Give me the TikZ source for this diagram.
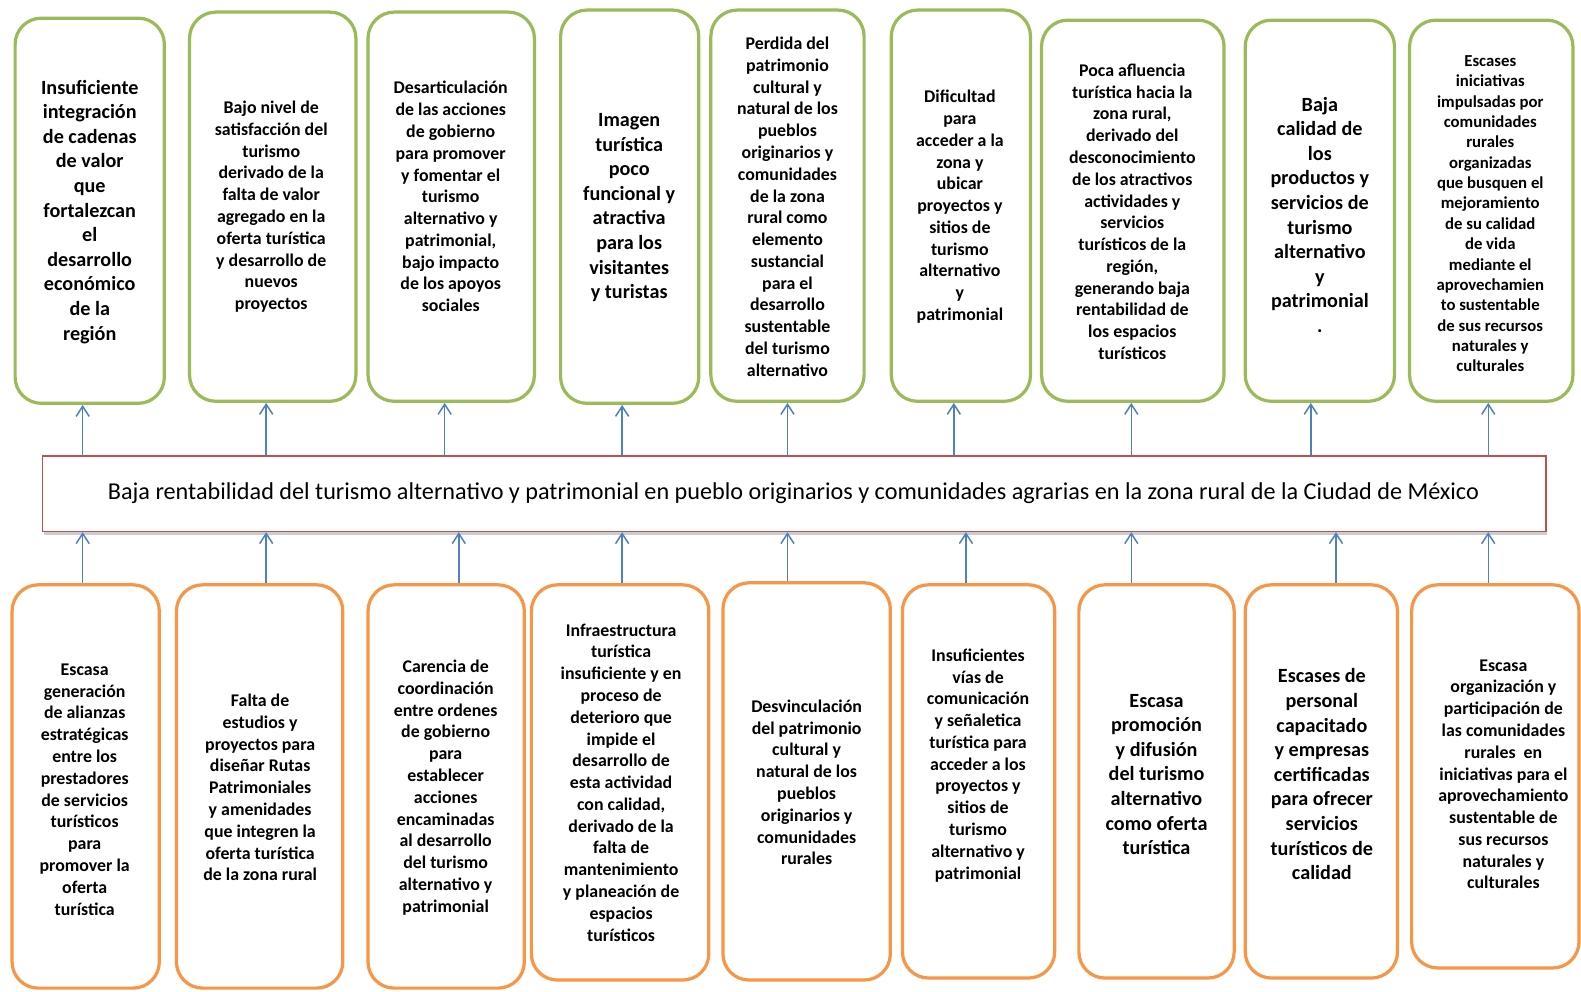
\documentclass[tikz,border=0pt]{standalone}
\usepackage{fontspec}
\setmainfont{Carlito}
\usetikzlibrary{arrows.meta,shadows}
\definecolor{boxgreen}{HTML}{9BBB59}
\definecolor{boxorange}{HTML}{F79646}
\definecolor{boxred}{HTML}{C0504D}
\definecolor{arrblue}{HTML}{4F81BD}
\tikzset{
  topbox/.style={draw=boxgreen, line width=1.6pt, rounded corners=13pt, fill=white, inner sep=0pt},
  botbox/.style={draw=boxorange, line width=1.6pt, rounded corners=13pt, fill=white, inner sep=0pt},
  midbox/.style={draw=boxred, line width=0.8pt, fill=white, inner sep=0pt,
    drop shadow={opacity=0.4, shadow xshift=0.8pt, shadow yshift=-1.8pt}},
  bigtxt/.style={align=center, inner sep=0pt, font=\bfseries\fontsize{10}{12.2}\selectfont},
  normtxt/.style={align=center, inner sep=0pt, font=\bfseries\fontsize{8.85}{10.8}\selectfont},
  smalltxt/.style={align=center, inner sep=0pt, font=\bfseries\fontsize{8.3}{10.1}\selectfont},
  midtxt/.style={align=center, inner sep=0pt, font=\fontsize{12}{14}\selectfont},
  arr/.style={draw=arrblue, line width=0.75pt, -{Straight Barb[length=5pt,width=6.5pt]}}
}
\begin{document}
\begin{tikzpicture}[x=0.5pt,y=-0.5pt]
\useasboundingbox (0,0) rectangle (1568,983);
% top boxes
\node[topbox, minimum width=74pt, minimum height=191pt] (T1) at (89,209) {};
\node[topbox, minimum width=82.5pt, minimum height=193pt] (T2) at (270.5,205) {};
\node[topbox, minimum width=82.5pt, minimum height=193pt] (T3) at (447.5,205) {};
\node[topbox, minimum width=68.5pt, minimum height=195pt] (T4) at (624.5,205) {};
\node[topbox, minimum width=76pt, minimum height=194pt] (T5) at (781,204) {};
\node[topbox, minimum width=69pt, minimum height=194pt] (T6) at (953,204) {};
\node[topbox, minimum width=90.5pt, minimum height=189pt] (T7) at (1123.5,209) {};
\node[topbox, minimum width=74pt, minimum height=189pt] (T8) at (1309,209) {};
\node[topbox, minimum width=81pt, minimum height=189pt] (T9) at (1479,209) {};
% top texts
\node[bigtxt] (T1t) at (89,210) {Insuficiente\\integración\\de cadenas\\de valor\\que\\fortalezcan\\el\\desarrollo\\económico\\de la\\región};
\node[normtxt] (T2t) at (269,205) {Bajo nivel de\\satisfacción del\\turismo\\derivado de la\\falta de valor\\agregado en la\\oferta turística\\y desarrollo de\\nuevos\\proyectos};
\node[normtxt] (T3t) at (447,195) {Desarticulación\\de las acciones\\de gobierno\\para promover\\y fomentar el\\turismo\\alternativo y\\patrimonial,\\bajo impacto\\de los apoyos\\sociales};
\node[bigtxt] (T4t) at (624,206) {Imagen\\turística\\poco\\funcional y\\atractiva\\para los\\visitantes\\y turistas};
\node[normtxt] (T5t) at (781,205) {Perdida del\\patrimonio\\cultural y\\natural de los\\pueblos\\originarios y\\comunidades\\de la zona\\rural como\\elemento\\sustancial\\para el\\desarrollo\\sustentable\\del turismo\\alternativo};
\node[normtxt] (T6t) at (952,205) {Dificultad\\para\\acceder a la\\zona y\\ubicar\\proyectos y\\sitios de\\turismo\\alternativo\\y\\patrimonial};
\node[normtxt] (T7t) at (1123,210) {Poca afluencia\\turística hacia la\\zona rural,\\derivado del\\desconocimiento\\de los atractivos\\actividades y\\servicios\\turísticos de la\\región,\\generando baja\\rentabilidad de\\los espacios\\turísticos};
\node[bigtxt] (T8t) at (1309,213) {Baja\\calidad de\\los\\productos y\\servicios de\\turismo\\alternativo\\y\\patrimonial\\.};
\node[smalltxt] (T9t) at (1478,212) {Escases\\iniciativas\\impulsadas por\\comunidades\\rurales\\organizadas\\que busquen el\\mejoramiento\\de su calidad\\de vida\\mediante el\\aprovechamien\\to sustentable\\de sus recursos\\naturales y\\culturales};
% central box
\node[midbox, minimum width=745.5pt, minimum height=37.5pt] (C) at (787.5,489.5) {};
\node[midtxt] (Ct) at (787,489) {Baja rentabilidad del turismo alternativo y patrimonial en pueblo originarios y comunidades agrarias en la zona rural de la Ciudad de México};
% bottom boxes
\node[botbox, minimum width=73pt, minimum height=200pt] (B1) at (85,780) {};
\node[botbox, minimum width=82.5pt, minimum height=200pt] (B2) at (257.5,780) {};
\node[botbox, minimum width=77.5pt, minimum height=200pt] (B3) at (442.5,780) {};
\node[botbox, minimum width=88pt, minimum height=196pt] (B4) at (615,776) {};
\node[botbox, minimum width=83pt, minimum height=197pt] (B5) at (800,775) {};
\node[botbox, minimum width=75.5pt, minimum height=195pt] (B6) at (970.5,775) {};
\node[botbox, minimum width=77pt, minimum height=195pt] (B7) at (1147,775) {};
\node[botbox, minimum width=75.5pt, minimum height=195pt] (B8) at (1310.5,775) {};
\node[botbox, minimum width=83pt, minimum height=190pt] (B9) at (1483,770) {};
% bottom texts
\node[normtxt] (B1t) at (84,783) {Escasa\\generación\\de alianzas\\estratégicas\\entre los\\prestadores\\de servicios\\turísticos\\para\\promover la\\oferta\\turística};
\node[normtxt] (B2t) at (258,781) {Falta de\\estudios y\\proyectos para\\diseñar Rutas\\Patrimoniales\\y amenidades\\que integren la\\oferta turística\\de la zona rural};
\node[normtxt] (B3t) at (442,781) {Carencia de\\coordinación\\entre ordenes\\de gobierno\\para\\establecer\\acciones\\encaminadas\\al desarrollo\\del turismo\\alternativo y\\patrimonial};
\node[normtxt] (B4t) at (616,776) {Infraestructura\\turística\\insuficiente y en\\proceso de\\deterioro que\\impide el\\desarrollo de\\esta actividad\\con calidad,\\derivado de la\\falta de\\mantenimiento\\y planeación de\\espacios\\turísticos};
\node[normtxt] (B5t) at (800,776) {Desvinculación\\del patrimonio\\cultural y\\natural de los\\pueblos\\originarios y\\comunidades\\rurales};
\node[normtxt] (B6t) at (970,759) {Insuficientes\\vías de\\comunicación\\y señaletica\\turística para\\acceder a los\\proyectos y\\sitios de\\turismo\\alternativo y\\patrimonial};
\node[bigtxt] (B7t) at (1147,768) {Escasa\\promoción\\y difusión\\del turismo\\alternativo\\como oferta\\turística};
\node[bigtxt] (B8t) at (1311,768) {Escases de\\personal\\capacitado\\y empresas\\certificadas\\para ofrecer\\servicios\\turísticos de\\calidad};
\node[normtxt] (B9t) at (1491,768) {Escasa\\organización y\\participación de\\las comunidades\\rurales \ en\\iniciativas para el\\aprovechamiento\\sustentable de\\sus recursos\\naturales y\\culturales};
% arrow x positions
\coordinate (a1) at (82,0);
\coordinate (a2) at (264,0);
\coordinate (a3) at (441,0);
\coordinate (a4) at (617,0);
\coordinate (a5) at (781,0);
\coordinate (a6) at (946,0);
\coordinate (a7) at (1122,0);
\coordinate (a8) at (1300,0);
\coordinate (a9) at (1476,0);
\coordinate (b1) at (82,0);
\coordinate (b2) at (264,0);
\coordinate (b3) at (455,0);
\coordinate (b4) at (617,0);
\coordinate (b5) at (781,0);
\coordinate (b6) at (958,0);
\coordinate (b7) at (1122,0);
\coordinate (b8) at (1325,0);
\coordinate (b9) at (1476,0);
% arrows
\foreach \i in {1,...,9} {
  \draw[arr] (C.north -| a\i) -- (T\i.south -| a\i);
  \draw[arr] (B\i.north -| b\i) -- (C.south -| b\i);
}
\end{tikzpicture}
\end{document}
